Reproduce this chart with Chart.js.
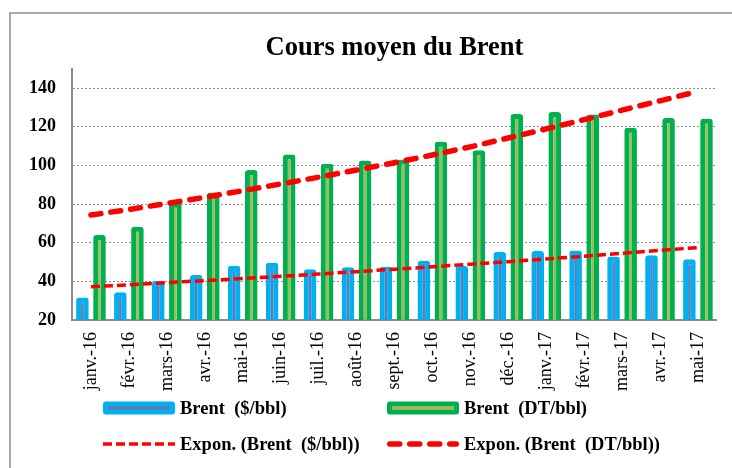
<!DOCTYPE html>
<html lang="fr">
<head>
<meta charset="utf-8">
<title>Cours moyen du Brent</title>
<script src="https://cdn.jsdelivr.net/npm/chart.js@4.4.0/dist/chart.umd.min.js"></script>
<style>
  html, body { margin: 0; padding: 0; background: #fff; }
  #wrap { width: 732px; height: 468px; }
</style>
</head>
<body>
<div id="wrap"><canvas id="brent" width="732" height="468"></canvas></div>
<script>
/* données */
const mois = ['janv.-16','févr.-16','mars-16','avr.-16','mai-16','juin-16','juil.-16','août-16',
  'sept.-16','oct.-16','nov.-16','déc.-16','janv.-17','févr.-17','mars-17','avr.-17','mai-17'];
const brentUsd = [31.7, 34.3, 40.3, 43.3, 48.1, 49.6, 46.2, 47.3, 47.6, 50.7, 47.9, 55.2, 55.7, 56.0, 52.8, 53.5, 51.4];
const brentDt  = [64.0, 68.3, 80.7, 86.0, 97.6, 105.7, 100.9, 102.6, 103.1, 112.2, 107.9, 126.6, 127.6, 126.4, 119.5, 124.5, 124.2];
const tendUsd  = [37.2, 38.2, 39.3, 40.4, 41.5, 42.6, 43.8, 45.0, 46.3, 47.5, 48.9, 50.2, 51.6, 53.0, 54.5, 56.0, 57.5];
const tendDt   = [74.3, 77.2, 80.3, 83.5, 86.9, 90.4, 93.9, 97.6, 101.4, 105.4, 109.6, 114.2, 118.9, 123.7, 128.6, 133.4, 138.3];
const yTicks   = [20, 40, 60, 80, 100, 120, 140];

const serif = "'Liberation Serif','Times New Roman',serif";
const gris = '#8c8c8c';

// cadre gris autour du graphique
const cadre = {
  id: 'cadre',
  beforeDraw(chart){
    const ctx = chart.ctx;
    ctx.save();
    ctx.fillStyle = '#fff';
    ctx.fillRect(0, 0, chart.width, chart.height);
    ctx.strokeStyle = gris; ctx.lineWidth = 1.5;
    ctx.beginPath();
    ctx.moveTo(10, chart.height); ctx.lineTo(10, 13); ctx.lineTo(chart.width, 13);
    ctx.stroke();
    ctx.restore();
  }
};

// légende sur deux colonnes, comme dans Excel
const legende = {
  id: 'legende',
  afterDraw(chart){
    const ctx = chart.ctx;
    const cols = [103, 387], rows = [408, 444];
    chart.data.datasets.forEach((ds, i) => {
      const x = cols[i % 2], y = rows[Math.floor(i / 2)];
      ctx.save();
      if(ds.type === 'line'){
        const cap = ds.borderCapStyle === 'round' ? ds.borderWidth / 2 : 0;
        ctx.strokeStyle = ds.borderColor; ctx.lineWidth = ds.borderWidth;
        ctx.lineCap = ds.borderCapStyle || 'butt';
        ctx.setLineDash(ds.borderDash);
        ctx.beginPath(); ctx.moveTo(x + cap, y); ctx.lineTo(x + 72 - cap, y); ctx.stroke();
        ctx.setLineDash([]);
      } else {
        ctx.fillStyle = ds.borderColor;
        ctx.beginPath();
        if(ctx.roundRect) ctx.roundRect(x, y - 6.5, 72, 13, 3); else ctx.rect(x, y - 6.5, 72, 13);
        ctx.fill();
        ctx.fillStyle = ds.backgroundColor;
        ctx.fillRect(x + 5, y - 2, 62, 4);
      }
      ctx.fillStyle = '#000';
      ctx.font = 'bold 18.5px ' + serif;
      ctx.textBaseline = 'middle';
      ctx.fillText(ds.label, x + 77, y + 1);
      ctx.restore();
    });
  }
};

new Chart(document.getElementById('brent'), {
  data: {
    labels: mois,
    datasets: [
      {type:'bar', label:'Brent  ($/bbl)', data:brentUsd, backgroundColor:'#4f81bd', borderColor:'#00b0f0',
        borderWidth:5, borderRadius:3, borderSkipped:false, order:1},
      {type:'bar', label:'Brent  (DT/bbl)', data:brentDt, backgroundColor:'#9bbb59', borderColor:'#00b050',
        borderWidth:5, borderRadius:3, borderSkipped:false, order:1},
      {type:'line', label:'Expon. (Brent  ($/bbl))', data:tendUsd, borderColor:'#ff0000', borderWidth:3.5,
        borderDash:[9,4], borderCapStyle:'butt', pointRadius:0, tension:0, fill:false, order:0},
      {type:'line', label:'Expon. (Brent  (DT/bbl))', data:tendDt, borderColor:'#ff0000', borderWidth:5.5,
        borderDash:[10,10], borderCapStyle:'round', pointRadius:0, tension:0, fill:false, order:0}
    ]
  },
  options: {
    responsive:false, animation:false, devicePixelRatio:1,
    datasets:{ bar:{ barPercentage:0.74, categoryPercentage:0.9 } },
    layout:{ padding:{ left:10, right:14, top:0, bottom:68 } },
    plugins:{
      legend:{ display:false },
      tooltip:{ enabled:false },
      title:{ display:true, text:'Cours moyen du Brent', color:'#000', fullSize:false,
        font:{ family:serif, size:26.5, weight:'bold', lineHeight:1.2 }, padding:{ top:32, bottom:5 } }
    },
    scales:{
      x:{
        grid:{ display:false, drawTicks:false },
        border:{ color:gris, width:2 },
        ticks:{ color:'#000', font:{ family:serif, size:18 }, minRotation:90, maxRotation:90, padding:12, autoSkip:false },
        afterFit(s){ s.height = 80; }
      },
      y:{
        min:20, max:150,
        grid:{ color:gris, lineWidth:1, drawTicks:false },
        border:{ color:gris, width:2, dash:[2,2] },
        ticks:{ color:'#000', font:{ family:serif, size:18, weight:'bold' }, padding:16 },
        afterBuildTicks(s){ s.ticks = yTicks.map(v => ({ value:v })); },
        afterFit(s){ s.width = 62; }
      }
    }
  },
  plugins:[cadre, legende]
});
</script>
</body>
</html>
